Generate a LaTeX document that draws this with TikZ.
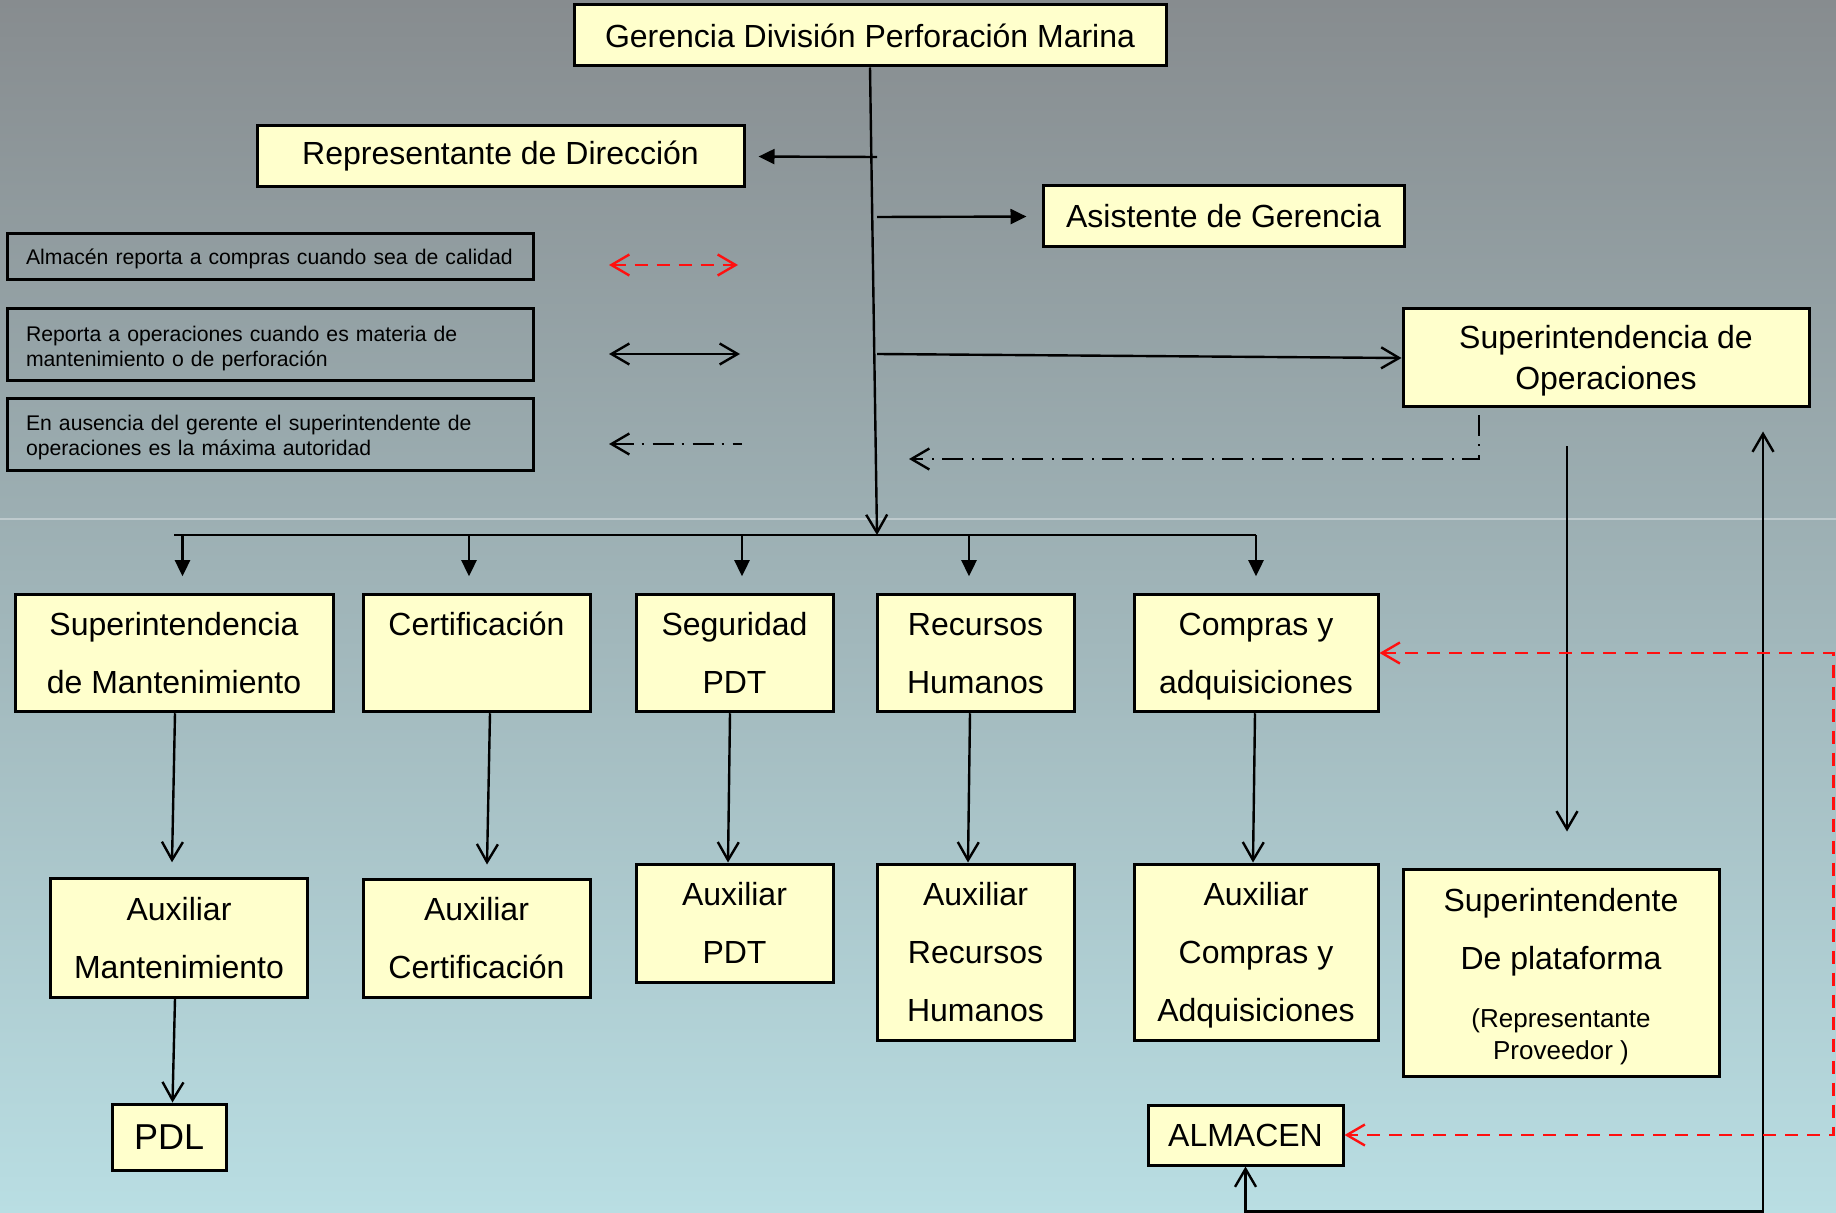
\documentclass[tikz,border=0pt]{standalone}
\usepackage{fontspec}
\setmainfont{Liberation Sans}
\usetikzlibrary{arrows.meta,calc}
\definecolor{bgtop}{HTML}{878C8F}
\definecolor{bgbot}{HTML}{B9DEE3}
\definecolor{boxfill}{HTML}{FFFFCC}
\definecolor{lred}{HTML}{FF1010}
\newcommand\opsstrut{\rule[-4pt]{0pt}{19.5pt}}
\begin{document}
\begin{tikzpicture}[x=0.5pt,y=-0.5pt,
  >={Straight Barb[length=9pt,width=10.5pt]},
  box/.style={draw=black,line width=1.5pt,fill=boxfill,inner sep=0pt,align=center,font=\fontsize{16}{29}\selectfont},
  legbox/.style={draw=black,line width=1.5pt,inner xsep=9.5pt,inner ysep=0pt,text width=244pt,align=left,minimum width=263pt,font=\fontsize{10.6}{12.5}\selectfont},
  conn/.style={line width=1.2pt,draw=black},
  fillarrow/.style={conn,-{Triangle[length=8pt,width=7.5pt]}},
  dashdot/.style={conn,dash pattern=on 10.5pt off 4pt on 1pt off 4.5pt},
  reddash/.style={line width=1.2pt,draw=lred,dash pattern=on 6.5pt off 4.5pt}]
% background
\shade[top color=bgtop,bottom color=bgbot] (0,0) rectangle (1836,1213);
\useasboundingbox (0,0) rectangle (1836,1213);
\draw[white,opacity=0.35,line width=0.6pt] (0,519) -- (1836,519);

% top nodes
\node[box,minimum width=296pt,minimum height=30.5pt] (ger) at (870,35.5) {Gerencia División Perforación Marina};
\node[box,minimum width=243.5pt,minimum height=30.5pt] (rep) at (500.5,156.5) {Representante de Dirección};
\node[box,minimum width=180.5pt,minimum height=30.5pt] (asis) at (1223.5,216.5) {Asistente de Gerencia};
\node[box,minimum width=203pt,minimum height=49pt,font=\fontsize{16}{19}\selectfont] (ops) at (1606,358) {\opsstrut Superintendencia de\\\opsstrut Operaciones};

% legend
\node[legbox,minimum height=23pt] (leg1) at (270,257) {\rule{0pt}{9.5pt}\mbox{Almacén reporta a compras cuando sea de calidad}};
\node[legbox,minimum height=36pt] (leg2) at (270,345) {\rule{0pt}{11.2pt}\mbox{Reporta a operaciones cuando es materia de}\\\mbox{mantenimiento o de perforación}};
\node[legbox,minimum height=36pt] (leg3) at (270,435) {\rule{0pt}{10.7pt}\mbox{En ausencia del gerente el superintendente de}\\\mbox{operaciones es la máxima autoridad}};

% row 2
\node[box,minimum width=159pt,minimum height=58.75pt] (mant) at (174,653) {Superintendencia\strut\\de Mantenimiento\strut};
\node[box,minimum width=113.5pt,minimum height=58.75pt] (cert) at (476.5,653) {Certificación\strut\\\strut};
\node[box,minimum width=98.5pt,minimum height=58.75pt] (seg) at (734.5,653) {Seguridad\strut\\PDT\strut};
\node[box,minimum width=98.5pt,minimum height=58.75pt] (rh) at (975.5,653) {Recursos\strut\\Humanos\strut};
\node[box,minimum width=122pt,minimum height=58.75pt] (comp) at (1256,653) {Compras y\strut\\adquisiciones\strut};

% row 3
\node[box,minimum width=128.75pt,minimum height=59.25pt] (auxmant) at (179,938) {Auxiliar\strut\\Mantenimiento\strut};
\node[box,minimum width=113.5pt,minimum height=59pt] (auxcert) at (476.5,938) {Auxiliar\strut\\Certificación\strut};
\node[box,minimum width=98.5pt,minimum height=59pt] (auxpdt) at (734.5,923) {Auxiliar\strut\\PDT\strut};
\node[box,minimum width=98.5pt,minimum height=88pt] (auxrh) at (975.5,952) {Auxiliar\strut\\Recursos\strut\\Humanos\strut};
\node[box,minimum width=122pt,minimum height=88pt] (auxcomp) at (1256,952) {Auxiliar\strut\\Compras y\strut\\Adquisiciones\strut};
\node[box,minimum width=158pt,minimum height=103.5pt] (plat) at (1561,972.5) {Superintendente\strut\\De plataforma\strut\\{\fontsize{13}{16}\selectfont(Representante}\\[-13pt]{\fontsize{13}{16}\selectfont Proveedor )}\rule[-7.4pt]{0pt}{7.4pt}};

% row 4
\node[box,minimum width=57.25pt,minimum height=33pt,font=\fontsize{18}{22}\selectfont] (pdl) at (169.25,1137) {PDL};
\node[box,minimum width=97.5pt,minimum height=30pt] (alm) at (1245.5,1135) {ALMACEN};

% main trunk and bus
\coordinate (busL) at (174,535);
\coordinate (busM) at (877,535);
\coordinate (busR) at (1256,535);
\draw[conn,->] (ger.south) -- (busM);
\draw[conn] (busL) -- (busR);
\foreach \nm/\xx in {mant/182.5,cert/469,seg/742,rh/969,comp/1256}{
  \coordinate (b\nm) at (\xx,535);
  \draw[fillarrow,shorten >=8.25pt] (b\nm) -- (b\nm |- \nm.north);
}

% side branches
\coordinate (jr) at (877,157);
\coordinate (ja) at (877,217);
\coordinate (jo) at (877,354);
\draw[fillarrow,shorten >=6.5pt] (jr) -- (rep.east);
\draw[fillarrow,shorten >=7.5pt] (ja) -- (asis.west);
\draw[conn,->] (jo) -- (ops.west);

% dash-dot from operations
\coordinate (ddend) at (909,459);
\draw[dashdot,->] ($(ops.south)+(-127,7)$) |- (ddend);

% operations to plataforma
\draw[conn,->] ($(ops.south)+(-39,38)$) -- ($(plat.north)+(6,-36)$);

% almacen <-> operations
\draw[conn,<->] (alm.south) -- ++(0,45) -| ($(ops.south)+(157,23)$);

% red dashed compras <-> almacen
\draw[reddash,<->] (comp.east) -- ++(454,0) |- (alm.east);

% row 2 -> row 3
\draw[conn,->] ($(mant.south)+(1,0)$) -- ($(auxmant.north)+(-7,-15)$);
\draw[conn,->] ($(cert.south)+(13.5,0)$) -- ($(auxcert.north)+(10.5,-13)$);
\draw[conn,->] ($(seg.south)+(-4.5,0)$) -- ($(auxpdt.north)+(-6.5,0)$);
\draw[conn,->] ($(rh.south)+(-5.5,0)$) -- ($(auxrh.north)+(-7.5,0)$);
\draw[conn,->] ($(comp.south)+(-1,0)$) -- ($(auxcomp.north)+(-3,0)$);
\draw[conn,->] ($(auxmant.south)+(-4,0)$) -- ($(pdl.north)+(3.25,0)$);

% legend arrows
\coordinate (l1a) at (609,265);
\coordinate (l1b) at (738,265);
\draw[reddash,<->] (l1a) -- (l1b);
\coordinate (l2a) at (609,354);
\coordinate (l2b) at (740,354);
\draw[conn,<->] (l2a) -- (l2b);
\coordinate (l3a) at (609,444);
\coordinate (l3b) at (742,444);
\draw[dashdot,<-] (l3a) -- (l3b);
\end{tikzpicture}
\end{document}
